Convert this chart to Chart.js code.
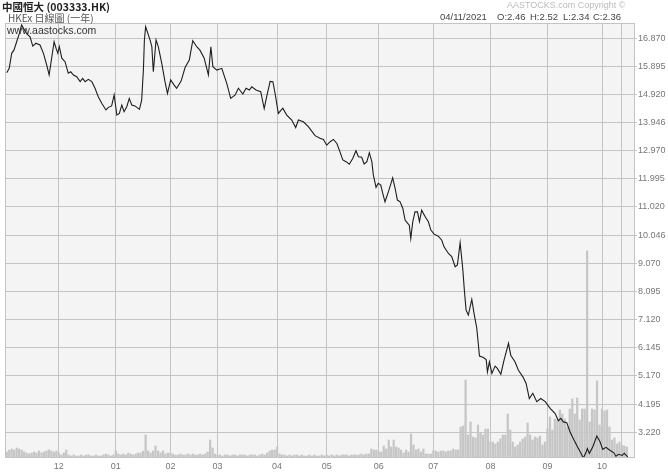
<!DOCTYPE html>
<html>
<head>
<meta charset="utf-8">
<script src="https://cdn.jsdelivr.net/npm/chart.js@4/dist/chart.umd.min.js"></script>
<style>
  body { margin: 0; background: #fff; }
  #wrap { position: relative; width: 668px; height: 474px; }
  #wrap div.t { position: absolute; white-space: pre; font-family: "Liberation Sans", Arial, sans-serif; line-height: 1; }
  #name { left: 2px; top: 2px; font-size: 10.5px; font-weight: bold; color: #222; font-family: "Noto Sans CJK TC", "Liberation Sans", sans-serif !important; }
  #sub { left: 8px; top: 13px; font-size: 10px; color: #555; font-family: "Noto Sans CJK TC", "Liberation Sans", sans-serif !important; }
  #site { left: 7px; top: 25px; font-size: 10.5px; color: #333; }
  #copy { left: 507px; top: 1px; font-size: 9px; color: #bbb; }
  .ohlc { top: 12px; font-size: 9.5px; color: #444; }
</style>
</head>
<body>
<div id="wrap">
  <canvas id="chart" width="668" height="474"></canvas>
  <div class="t" id="name">中國恒大 (003333.HK)</div>
  <div class="t" id="sub">HKEx 日線圖 (一年)</div>
  <div class="t" id="site">www.aastocks.com</div>
  <div class="t" id="copy">AASTOCKS.com Copyright ©</div>
  <div class="t ohlc" style="left:440px">04/11/2021</div>
  <div class="t ohlc" style="left:497px">O:2.46</div>
  <div class="t ohlc" style="left:530px">H:2.52</div>
  <div class="t ohlc" style="left:563px">L:2.34</div>
  <div class="t ohlc" style="left:593px">C:2.36</div>
</div>
<script>
// trading day index -> close
const closeDays = [0, 1, 2, 2.9, 4, 5.1, 6, 7, 8.1, 9.4, 10.5, 11.8, 13.4, 14.8, 16.1, 17.1, 18.1, 19.1, 19.9, 20.6,
  21.2, 22.2, 23.5, 24.8, 25.8, 26.9, 28.2, 29.6, 30.6, 31.6, 32.9, 34.3, 35.6, 36.9, 38.3, 40, 41, 42.3, 43.3, 44.4,
  45.4, 46.4, 47.3, 48.4, 49.4, 50.4, 51.7, 53.5, 54.4, 55.1, 55.5, 56, 56.9, 57.8, 58.5, 59.1, 60.2, 61.1, 62.5, 63.8,
  64.8, 66.1, 67.5, 68.5, 70.3, 71.9, 73.6, 75, 76.6, 77.9, 79.6, 81.3, 82.3, 83.1, 84.7, 86.7, 88.7, 90.3, 92.1, 93.4,
  95.2, 96.5, 97.8, 98.8, 100.5, 102.4, 103.8, 104.8, 106.2, 107.3, 108.2, 109.5, 111.3, 112.9, 114.9, 116.5, 117.6, 119.6, 121.6, 124.3,
  126.3, 127.7, 129, 130.4, 131.7, 133.1, 134.1, 135.5, 136.8, 138.1, 139.5, 140.8, 141.8, 143.1, 144.1, 145.2, 146.2, 147.2, 147.8, 148.9,
  149.8, 150.8, 151.6, 152.5, 153.9, 155.6, 156.6, 157.5, 158.6, 159.7, 160.6, 161.5, 162.3, 162.9, 163.7, 164.6, 165.6, 166.4, 167.3, 168.7,
  170, 171, 172.3, 174, 175.4, 176.3, 178.1, 179.4, 180.8, 181.7, 182.8, 183.9, 184.5, 185.2, 186.1, 187.5, 188.4, 189.5, 190.6, 192.2,
  193.3, 193.8, 194.6, 195.6, 196.9, 197.8, 199.2, 200.5, 202.3, 203.2, 204.9, 206.3, 208.1, 209.4, 210.7, 212.1, 213.7, 215.3, 217.1, 219.1,
  221.1, 222.4, 223.4, 224.4, 225.8, 227.1, 228.7, 230.1, 231.4, 232.5, 233.6, 234.1, 234.9, 236.3, 237.9, 239.2, 240.3, 241.6, 243.2, 244.8,
  245.6, 246.7, 248.1, 249, 250.4];
const closes = [15.67, 15.82, 16.34, 16.45, 16.74, 17.03, 17.32, 17.17, 17.01, 16.91, 16.59, 16.69, 16.63, 16.34, 15.94, 15.59, 16.17, 16.74, 16.51, 16.34,
  16.57, 16.17, 16.05, 15.65, 15.70, 15.59, 15.53, 15.36, 15.47, 15.36, 15.44, 15.36, 15.13, 14.84, 14.61, 14.38, 14.47, 14.52, 14.90, 14.20,
  14.26, 14.55, 14.32, 14.49, 14.78, 14.55, 14.52, 14.40, 14.72, 15.76, 16.80, 17.26, 17.03, 16.80, 16.57, 15.70, 16.80, 16.57, 15.99, 15.36,
  14.95, 15.42, 15.24, 15.13, 15.38, 15.85, 16.11, 16.78, 16.57, 16.45, 16.17, 15.59, 16.57, 15.88, 15.76, 15.82, 15.30, 14.78, 14.90, 15.13,
  14.93, 15.13, 15.07, 15.18, 15.07, 15.01, 14.43, 14.84, 15.37, 15.36, 14.95, 14.26, 14.44, 14.20, 14.03, 13.77, 14.03, 13.97, 13.80, 13.49,
  13.40, 13.36, 13.16, 13.28, 13.36, 13.22, 12.99, 12.65, 12.59, 12.50, 12.70, 12.97, 12.76, 12.74, 12.51, 12.59, 12.90, 12.59, 12.13, 11.70,
  11.84, 11.78, 11.49, 11.20, 11.55, 12.03, 11.66, 11.26, 11.20, 10.97, 10.57, 10.47, 10.39, 9.93, 10.51, 10.85, 10.85, 10.51, 10.91, 10.68,
  10.51, 10.22, 10.08, 10.01, 9.87, 9.64, 9.41, 9.30, 8.95, 9.01, 9.78, 8.84, 8.14, 7.45, 7.28, 7.82, 7.34, 6.83, 5.86, 5.81,
  5.74, 5.31, 5.66, 5.26, 5.51, 5.43, 5.23, 5.72, 6.30, 5.89, 5.66, 5.37, 5.14, 4.91, 4.39, 4.57, 4.28, 4.39, 4.28, 4.05,
  3.87, 3.62, 3.70, 3.58, 3.55, 3.24, 2.95, 2.72, 2.51, 2.33, 2.54, 2.66, 2.49, 2.72, 3.09, 2.89, 2.63, 2.70, 2.60, 2.51,
  2.39, 2.46, 2.42, 2.49, 2.36];

// daily volume, one bar per trading day (relative units)
const volume = [6, 8, 9, 8, 10, 9, 8, 6, 5, 4, 5, 6, 5, 7, 5, 6, 7, 8, 7, 6,
  7, 5, 3, 5, 8, 3, 2, 3, 2, 2, 3, 2, 3, 3, 2, 2, 3, 2, 2, 3,
  4, 3, 2, 3, 7, 4, 3, 4, 3, 5, 4, 3, 4, 5, 5, 7, 23, 7, 5, 7,
  12, 7, 5, 7, 4, 5, 5, 4, 3, 3, 4, 3, 3, 4, 3, 4, 3, 3, 4, 3,
  4, 6, 18, 10, 4, 3, 3, 2, 3, 3, 2, 3, 3, 2, 3, 3, 3, 2, 3, 3,
  3, 2, 3, 4, 3, 5, 7, 8, 8, 11, 4, 3, 3, 2, 3, 2, 3, 3, 2, 3,
  2, 2, 3, 2, 3, 2, 2, 3, 2, 3, 2, 3, 2, 3, 2, 3, 3, 3, 2, 3,
  3, 3, 3, 4, 3, 4, 4, 9, 8, 8, 6, 6, 12, 9, 18, 11, 18, 11, 10, 8,
  5, 8, 6, 24, 13, 8, 9, 6, 9, 4, 4, 4, 7, 7, 6, 7, 7, 6, 7, 7,
  9, 8, 8, 31, 32, 78, 23, 36, 21, 20, 33, 25, 23, 29, 29, 16, 16, 14, 16, 19,
  23, 23, 44, 28, 16, 11, 13, 16, 19, 21, 35, 23, 18, 21, 20, 22, 13, 16, 29, 41,
  28, 39, 38, 48, 44, 39, 31, 49, 59, 44, 60, 38, 49, 49, 207, 36, 49, 48, 77, 33,
  49, 47, 48, 31, 18, 20, 14, 16, 13, 12, 11];

const yTicks = [16.870, 15.895, 14.920, 13.946, 12.970, 11.995, 11.020, 10.046, 9.070, 8.095, 7.120, 6.145, 5.170, 4.195, 3.220];
const monthDays = [21, 44, 66, 85, 109, 129, 150, 172, 195, 218, 240, 248];
const monthLabels = ["12", "01", "02", "03", "04", "05", "06", "07", "08", "09", "10", ""];

const linePoints = closeDays.map((d, i) => ({ x: d, y: closes[i] }));
const volPoints = volume.map((v, i) => ({ x: i, y: v }));

const plotBg = {
  id: "plotBg",
  beforeDraw(chart) {
    const { ctx, chartArea: a } = chart;
    ctx.save();
    ctx.fillStyle = "#f4f4f4";
    ctx.fillRect(a.left, a.top, a.right - a.left, a.bottom - a.top);
    ctx.restore();
  },
  afterDraw(chart) {
    const { ctx, chartArea: a } = chart;
    ctx.save();
    ctx.strokeStyle = "#c4c4c4";
    ctx.lineWidth = 1;
    ctx.strokeRect(a.left + 0.5, a.top + 0.5, a.right - a.left - 1, a.bottom - a.top - 1);
    ctx.restore();
  }
};

new Chart(document.getElementById("chart"), {
  data: {
    datasets: [
      {
        type: "line",
        data: linePoints,
        borderColor: "#1e1e1e",
        borderWidth: 1.1,
        pointRadius: 0,
        tension: 0,
        yAxisID: "y",
        order: 1
      },
      {
        type: "bar",
        data: volPoints,
        backgroundColor: "#c6c6c6",
        borderWidth: 0,
        barThickness: 1.6,
        yAxisID: "yv",
        order: 2
      }
    ]
  },
  options: {
    responsive: false,
    devicePixelRatio: 1,
    animation: false,
    layout: { padding: { left: 5, top: 23, right: 0, bottom: 0 } },
    plugins: { legend: { display: false }, tooltip: { enabled: false } },
    scales: {
      x: {
        type: "linear",
        offset: false,
        min: -0.7,
        max: 253.3,
        afterBuildTicks: (s) => { s.ticks = monthDays.map((v) => ({ value: v })); },
        afterFit: (s) => { s.height = 16; s.paddingLeft = 0; s.paddingRight = 0; },
        ticks: {
          autoSkip: false,
          maxRotation: 0,
          padding: 3,
          color: "#777",
          font: { family: "Liberation Sans", size: 9 },
          callback: (v, i) => monthLabels[i]
        },
        grid: { color: "#c4c4c4", drawTicks: false, offset: false },
        border: { display: false }
      },
      y: {
        position: "right",
        min: 2.33,
        max: 17.39,
        afterBuildTicks: (s) => { s.ticks = yTicks.map((v) => ({ value: v })); },
        afterFit: (s) => { s.width = 33; s.paddingTop = 0; s.paddingBottom = 0; },
        ticks: {
          padding: 1,
          color: "#777",
          font: { family: "Liberation Sans", size: 9 },
          callback: (v) => v.toFixed(3)
        },
        grid: { color: "#c4c4c4", tickLength: 2 },
        border: { display: false }
      },
      yv: {
        display: false,
        min: 0,
        max: 435
      }
    }
  },
  plugins: [plotBg]
});
</script>
</body>
</html>
